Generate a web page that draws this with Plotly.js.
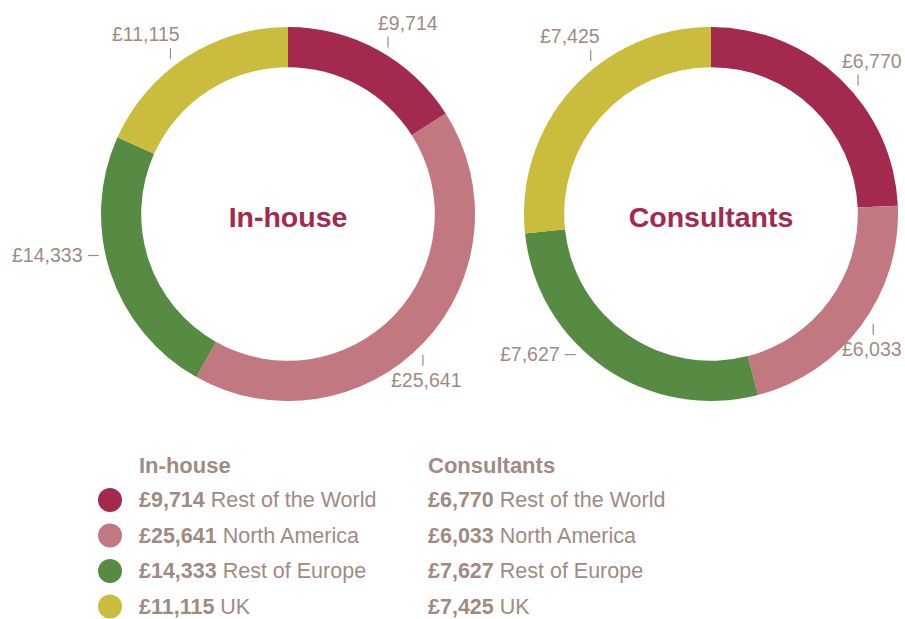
<!DOCTYPE html>
<html><head><meta charset="utf-8">
<script src="https://cdn.plot.ly/plotly-3.0.1.min.js"></script>
<style>html,body{margin:0;padding:0;background:#fff}</style>
</head><body><div id="chart" style="width:905px;height:619px"></div>
<script>
// ---- data ----
const regions = ['Rest of the World', 'North America', 'Rest of Europe', 'UK'];
const inHouse = [9714, 25641, 14333, 11115];
const consultants = [6770, 6033, 7627, 7425];
const groupNames = ['In-house', 'Consultants'];
const colors = ['#A3294F', '#C27881', '#578B43', '#CABD3E'];

// ---- layout config ----
const W = 905, H = 619;
const FONT = '"Liberation Sans", Arial, Helvetica, sans-serif';
const TXT = '#9F8B7F';
const centers = [[288, 214], [711, 214]];
const R = 187;
const LABEL_SIZE = 19.5;
const tickDirs = [['v', 'v', 'h', 'v'], ['v', 'v', 'h', 'v']];
// small angular nudges (degrees) of the outside labels, as laid out in the original
const labelNudge = [[1.4, 3.9, 6.2, -3.3], [3.9, -1.1, 10.3, 10.8]];
const legendX = [{circle: 110, text: 137}, {circle: null, text: 426}];
const legendHeaderY = 465, legendY0 = 500, legendStep = 35.5;

const px = x => x / W, py = y => 1 - y / H;
const fmt = v => '£' + v.toLocaleString('en-GB');
const ctx = document.createElement('canvas').getContext('2d');
ctx.font = LABEL_SIZE + 'px ' + FONT;
const textW = s => ctx.measureText(s).width + 4;

const series = [inHouse, consultants];
const traces = [], shapes = [], annotations = [];

series.forEach((vals, g) => {
  const [cx, cy] = centers[g];
  traces.push({
    type: 'pie', values: vals, labels: regions,
    marker: {colors: colors, line: {width: 0}},
    hole: 0.785, sort: false, direction: 'clockwise', rotation: 0,
    textinfo: 'none', hoverinfo: 'label+value', showlegend: false,
    domain: {x: [px(cx - R), px(cx + R)], y: [py(cy + R), py(cy - R)]},
    title: {text: groupNames[g], position: 'middle center',
            font: {family: FONT, size: 28.5, color: '#A3294F', weight: 'bold'}}
  });
  const total = vals.reduce((a, b) => a + b, 0);
  let cum = 0;
  vals.forEach((v, i) => {
    const th = 2 * Math.PI * (cum + v / 2) / total + labelNudge[g][i] * Math.PI / 180;
    cum += v;
    const sx = Math.sin(th), sy = -Math.cos(th);
    const rt = 199;
    const X = cx + rt * sx, Y = cy + rt * sy;
    const lineStyle = {color: TXT, width: 1.2};
    const label = fmt(v), tw = textW(label);
    const ann = {text: label, showarrow: false, xref: 'paper', yref: 'paper',
                 font: {family: FONT, size: LABEL_SIZE, color: TXT}};
    let left; // left edge of text box in px
    if (tickDirs[g][i] === 'v') {
      shapes.push({type: 'line', xref: 'paper', yref: 'paper',
        x0: px(X), x1: px(X), y0: py(Y - 5.5), y1: py(Y + 5.5), line: lineStyle});
      if (sy < 0) {
        ann.yanchor = 'bottom'; ann.y = py(Y - 6);
        left = sx > 0 ? X - 12 : X + 11 - tw;
      } else {
        ann.yanchor = 'top'; ann.y = py(Y + 7);
        left = X + 3 - tw / 2;
      }
    } else {
      shapes.push({type: 'line', xref: 'paper', yref: 'paper',
        x0: px(X - 5.5), x1: px(X + 5.5), y0: py(Y), y1: py(Y), line: lineStyle});
      ann.yanchor = 'middle'; ann.y = py(Y - 1);
      left = X - 9 - tw;
    }
    left = Math.max(1, Math.min(W - 1 - tw, left));
    ann.xanchor = 'left'; ann.x = px(left);
    annotations.push(ann);
  });

  // legend
  const lx = legendX[g];
  annotations.push({text: '<b>' + groupNames[g] + '</b>', showarrow: false,
    xref: 'paper', yref: 'paper', x: px(lx.text), y: py(legendHeaderY),
    xanchor: 'left', yanchor: 'middle', font: {family: FONT, size: 22, color: TXT}});
  vals.forEach((v, i) => {
    const yy = legendY0 + i * legendStep;
    if (lx.circle !== null) {
      shapes.push({type: 'circle', xref: 'paper', yref: 'paper',
        x0: px(lx.circle - 12), x1: px(lx.circle + 12),
        y0: py(yy + 12), y1: py(yy - 12),
        fillcolor: colors[i], line: {width: 0}});
    }
    annotations.push({text: '<b>' + fmt(v) + '</b> ' + regions[i], showarrow: false,
      xref: 'paper', yref: 'paper', x: px(lx.text), y: py(yy),
      xanchor: 'left', yanchor: 'middle', font: {family: FONT, size: 21.5, color: TXT}});
  });
});

const layout = {
  width: W, height: H, margin: {l: 0, r: 0, t: 0, b: 0},
  paper_bgcolor: '#fff', plot_bgcolor: '#fff',
  shapes: shapes, annotations: annotations, showlegend: false,
  font: {family: FONT}
};
Plotly.newPlot('chart', traces, layout, {displayModeBar: false, staticPlot: true});
</script></body></html>
